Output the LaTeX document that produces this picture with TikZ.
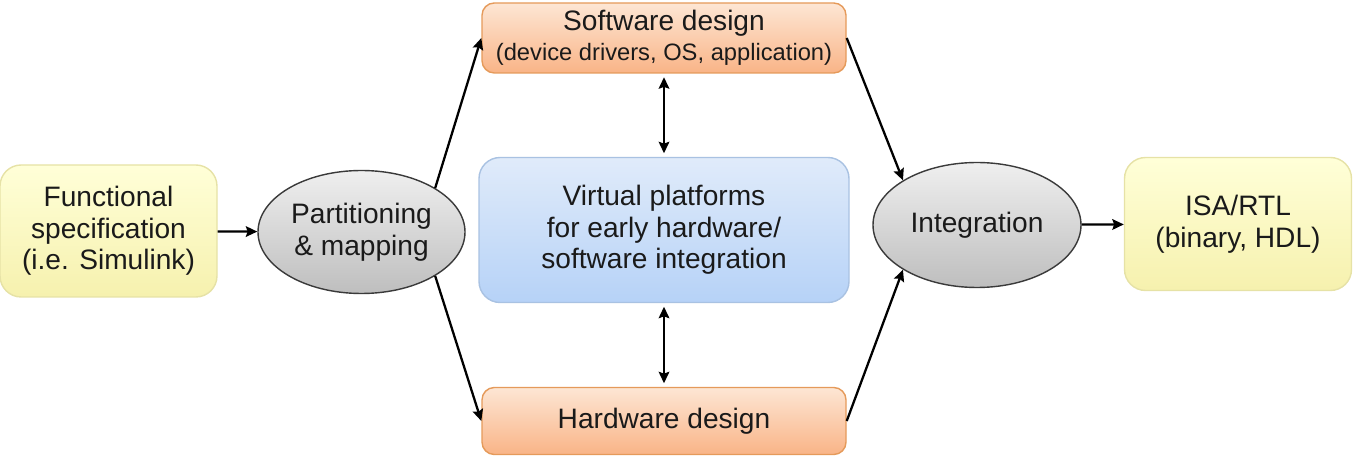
\documentclass[tikz,border=0pt]{standalone}
\usepackage{fontspec}
\setmainfont{Liberation Sans}
\usepackage{tikz}
\usetikzlibrary{arrows.meta,positioning,shapes.geometric}
\definecolor{specfill}{HTML}{FFFFD8}
\definecolor{specfillb}{HTML}{F6F1AE}
\definecolor{specline}{HTML}{E6E2A6}
\definecolor{designfill}{HTML}{FDE6D4}
\definecolor{designfillb}{HTML}{F9B487}
\definecolor{designline}{HTML}{E59A5A}
\definecolor{vpfill}{HTML}{E0EBFA}
\definecolor{vpfillb}{HTML}{B6D2F7}
\definecolor{vpline}{HTML}{A9C2E2}
\definecolor{stepfill}{HTML}{EFEFEF}
\definecolor{stepfillb}{HTML}{BEBEBE}
\definecolor{stepline}{HTML}{3A3A3A}
\definecolor{txt}{HTML}{1A1A1A}
\newcommand{\subfont}{\fontsize{13.5}{15}\selectfont}
\tikzset{
  specbox/.style={
    rectangle, rounded corners=12pt, draw=specline, thick,
    top color=specfill, bottom color=specfillb,
    minimum width=4.34cm, minimum height=2.64cm,
    font=\fontsize{16}{18}\selectfont, text=txt, align=center,
    inner sep=3pt
  },
  designbox/.style={
    rectangle, rounded corners=7pt, draw=designline, thick,
    top color=designfill, bottom color=designfillb,
    minimum width=7.28cm,
    font=\fontsize{16}{18}\selectfont, text=txt, align=center,
    inner sep=2pt
  },
  vpbox/.style={
    rectangle, rounded corners=12pt, draw=vpline, thick,
    top color=vpfill, bottom color=vpfillb,
    minimum width=7.4cm, minimum height=2.9cm,
    font=\fontsize{16}{18}\selectfont, text=txt, align=center,
    inner sep=3pt
  },
  stepoval/.style={
    ellipse, draw=stepline, thick,
    top color=stepfill, bottom color=stepfillb,
    minimum width=4.14cm, minimum height=2.46cm,
    font=\fontsize{16}{18}\selectfont, text=txt, align=center,
    inner sep=1pt
  },
  flowarrow/.style={
    -{Stealth[length=6.5pt,width=6pt,inset=1pt]}, line width=1.3pt, color=black
  },
  linkarrow/.style={
    {Stealth[length=6.5pt,width=6pt,inset=1pt]}-{Stealth[length=6.5pt,width=6pt,inset=1pt]},
    line width=1.3pt, color=black, shorten <=2pt, shorten >=2pt
  }
}
\begin{document}
\begin{tikzpicture}
\useasboundingbox (0,0) rectangle (27.08,-9.16);

% Left to right flow
\node[specbox] (spec) at (2.17,-4.62) {Functional\\specification\\(i.e. Simulink)};
\node[stepoval] (part) at (7.23,-4.64) {Partitioning\\\& mapping};
\node[stepoval, minimum width=4.16cm, minimum height=2.5cm] (integ) at (19.54,-4.5) {Integration};
\node[specbox, minimum width=4.54cm, minimum height=2.66cm] (isa) at (24.76,-4.48) {ISA/RTL\\(binary, HDL)};

% Middle column
\node[designbox, minimum height=1.4cm] (sw) at (13.28,-0.76)
  {Software design\\[-1pt]{\subfont (device drivers, OS, application)}};
\node[vpbox] (vp) at (13.28,-4.6) {Virtual platforms\\for early hardware/\\software integration};
\node[designbox, minimum height=1.34cm] (hw) at (13.28,-8.42) {Hardware design};

% Main flow arrows
\draw[flowarrow] (spec) -- (part);
\draw[flowarrow] (part.north east) -- (sw.west);
\draw[flowarrow] (part.south east) -- (hw.west);
\draw[flowarrow] (sw.east) -- (integ.north west);
\draw[flowarrow] (hw.east) -- (integ.south west);
\draw[flowarrow] (integ) -- (isa);

% Links to the virtual platform
\draw[linkarrow] (sw.south) -- (vp.north);
\draw[linkarrow] (vp.south) -- (hw.north);

\end{tikzpicture}
\end{document}
